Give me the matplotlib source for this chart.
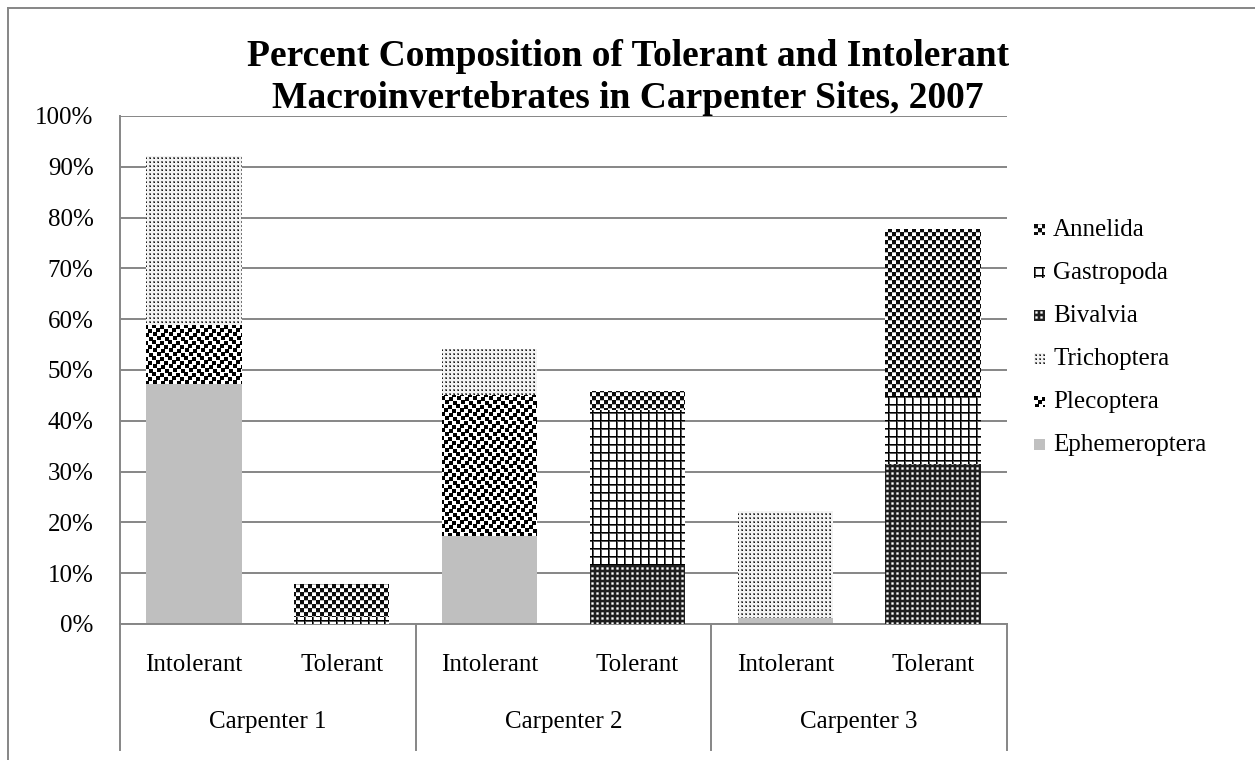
import numpy as np
import matplotlib
matplotlib.use("Agg")
import matplotlib.pyplot as plt
from matplotlib.lines import Line2D
from matplotlib.path import Path

plt.rcParams["font.family"] = ["Liberation Serif", "DejaVu Serif"]

# bars run Carpenter 1..3, Intolerant then Tolerant within each site
SITES = ["Carpenter 1", "Carpenter 2", "Carpenter 3"]
GROUPS = ["Intolerant", "Tolerant"]
TAXA = ["Ephemeroptera", "Plecoptera", "Trichoptera", "Bivalvia", "Gastropoda", "Annelida"]

# percent composition of each taxon, stacked bottom to top in TAXA order
ephemeroptera = [47.3, 0.0, 17.4, 0.0, 1.2, 0.0]
plecoptera = [11.6, 0.0, 27.7, 0.0, 0.0, 0.0]
trichoptera = [33.2, 0.0, 9.0, 0.0, 21.1, 0.0]
bivalvia = [0.0, 0.0, 0.0, 11.6, 0.0, 31.5]
gastropoda = [0.0, 1.3, 0.0, 30.5, 0.0, 13.3]
annelida = [0.0, 6.6, 0.0, 3.8, 0.0, 32.9]

Y_TICKS = list(range(0, 101, 10))

W, H = 1255, 760
GRID = "#868686"
GRAY_FILL = "#BFBFBF"


# ---- grayscale pattern tiles (1 = white, 0 = black) ----
def tile_trichoptera():
    t = np.full((4, 4), 0.95)
    t[1:3, 1:3] = 0.45
    t[2, 2] = 0.1
    return t


def tile_plecoptera():
    t = np.ones((16, 16))
    for r, c in [(0, 0), (1, 8), (4, 4), (5, 12), (8, 1), (9, 9), (12, 5), (13, 13)]:
        for dr in range(4):
            for dc in range(4):
                t[(r + dr) % 16, (c + dc) % 16] = 0.0
    return t


def tile_bivalvia():
    t = np.full((5, 5), 0.12)
    t[1:4, 1:4] = [[0.5, 0.7, 0.5], [0.7, 1.0, 0.7], [0.5, 0.7, 0.5]]
    return t


def tile_gastropoda():
    t = np.ones((8, 8))
    t[1, :] = 0.35
    t[:, 1] = 0.35
    t[0, :] = 0.0
    t[:, 0] = 0.0
    return t


def tile_annelida():
    t = np.ones((8, 8))
    t[0:4, 0:4] = 0.05
    t[4:8, 4:8] = 0.05
    t[0, 4:8] = 0.7
    t[4, 0:4] = 0.7
    return t


TILES = {
    "Plecoptera": tile_plecoptera,
    "Trichoptera": tile_trichoptera,
    "Bivalvia": tile_bivalvia,
    "Gastropoda": tile_gastropoda,
    "Annelida": tile_annelida,
}


def texture(tile, h, w):
    reps = (h // tile.shape[0] + 1, w // tile.shape[1] + 1)
    return np.tile(tile, reps)[:h, :w]


fig = plt.figure(figsize=(W / 100, H / 100), dpi=100)

# plot area in pixels: x 120..1007, y 116..624 (from top)
ax_l, ax_r, ax_t, ax_b = 120, 1007, 116, 624
ax = fig.add_axes([ax_l / W, (H - ax_b) / H, (ax_r - ax_l) / W, (ax_b - ax_t) / H])

series = {
    "Ephemeroptera": ephemeroptera,
    "Plecoptera": plecoptera,
    "Trichoptera": trichoptera,
    "Bivalvia": bivalvia,
    "Gastropoda": gastropoda,
    "Annelida": annelida,
}

x = np.arange(len(SITES) * len(GROUPS))
bottom = np.zeros(len(x))
px_w, px_h = ax_r - ax_l, ax_b - ax_t

for name in TAXA:
    vals = np.array(series[name])
    if name == "Ephemeroptera":
        ax.bar(x, vals, bottom=bottom, width=0.645, color=GRAY_FILL,
               linewidth=0, zorder=2)
    else:
        bars = ax.bar(x, vals, bottom=bottom, width=0.645, color="none",
                      linewidth=0, zorder=2)
        paths = [b.get_path().transformed(b.get_patch_transform())
                 for b, v in zip(bars, vals) if v > 0]
        clip = Path.make_compound_path(*paths)
        im = ax.imshow(texture(TILES[name](), px_h, px_w),
                       extent=(-0.5, 5.5, 0, 100), origin="upper",
                       cmap="gray", vmin=0, vmax=1, interpolation="nearest",
                       aspect="auto", zorder=3)
        im.set_clip_path(clip, ax.transData)
    bottom += vals

ax.set_xlim(-0.5, 5.5)
ax.set_ylim(0, 100)
ax.set_yticks(Y_TICKS)
ax.set_yticklabels([f"{v}%" for v in Y_TICKS], fontsize=18)
ax.tick_params(axis="y", length=0, pad=19)
ax.set_xticks([])
ax.grid(axis="y", color=GRID, linewidth=1.4)
ax.set_axisbelow(True)
for side in ["top", "right"]:
    ax.spines[side].set_visible(False)
for side in ["left", "bottom"]:
    ax.spines[side].set_color(GRID)
    ax.spines[side].set_linewidth(1.4)

# two-level category axis
xt = ax.get_xaxis_transform()
lab_y = -(665 - ax_b) / px_h
site_y = -(722 - ax_b) / px_h
sep_y = -(750 - ax_b) / px_h
for i, xi in enumerate(x):
    ax.text(xi, lab_y, GROUPS[i % 2], transform=xt, ha="center", va="center",
            fontsize=18)
for j, site in enumerate(SITES):
    ax.text(2 * j + 0.5, site_y, site, transform=xt, ha="center", va="center",
            fontsize=18)
for b in [-0.5, 1.5, 3.5, 5.5]:
    ax.plot([b, b], [0, sep_y], transform=xt, color=GRID, linewidth=1.4,
            clip_on=False)

# title
fig.text(628 / W, 1 - 66 / H, "Percent Composition of Tolerant and Intolerant",
         ha="center", va="baseline", fontsize=27, fontweight="bold")
fig.text(628 / W, 1 - 108 / H, "Macroinvertebrates in Carpenter Sites, 2007",
         ha="center", va="baseline", fontsize=27, fontweight="bold")

# legend, top entry first
legend_y = [230, 273, 316, 359, 402, 445]
for name, ly in zip(TAXA[::-1], legend_y):
    if name == "Ephemeroptera":
        sw = np.full((11, 11), 0.75)
    else:
        sw = texture(TILES[name](), 11, 11)
    fig.figimage(sw, xo=1034, yo=H - ly - 5, cmap="gray", vmin=0, vmax=1,
                 origin="upper", zorder=5)
    fig.text(1053 / W, 1 - ly / H, name, ha="left", va="center", fontsize=18)

# chart frame
fig.add_artist(Line2D([8 / W, 1], [1 - 8 / H, 1 - 8 / H], color=GRID,
                      linewidth=1.4, transform=fig.transFigure))
fig.add_artist(Line2D([8 / W, 8 / W], [0, 1 - 8 / H], color=GRID,
                      linewidth=1.4, transform=fig.transFigure))

fig.savefig("out.png", dpi=100, facecolor="white")
